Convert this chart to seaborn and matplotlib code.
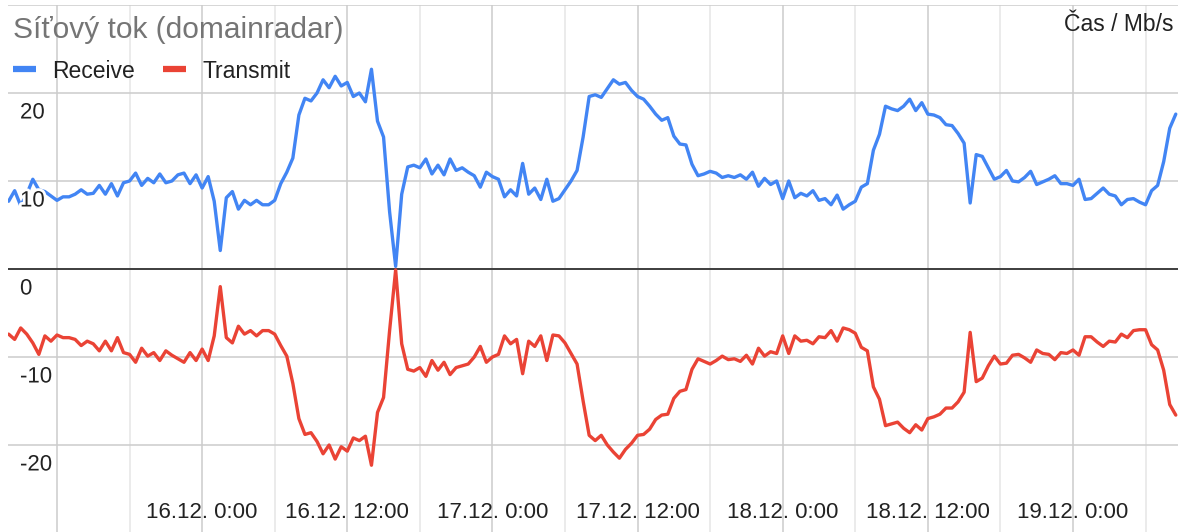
import pandas as pd
import matplotlib
matplotlib.use("Agg")
import matplotlib.pyplot as plt
import matplotlib.dates as mdates
import matplotlib.patheffects as pe
from matplotlib.transforms import offset_copy
from matplotlib.lines import Line2D
import seaborn as sns

# --------------------------------------------
# Data (Mb/s, one sample every 30 minutes)
# --------------------------------------------
start_time = "2024-12-15 08:00"
sample_step = "30min"

receive = [
    7.7, 8.9, 7.2, 8.5, 10.2, 9.0, 8.8, 8.3, 7.8, 8.2,
    8.2, 8.5, 9.0, 8.5, 8.6, 9.5, 8.5, 9.7, 8.3, 9.8,
    10.0, 10.9, 9.5, 10.3, 9.8, 10.8, 9.8, 10.0, 10.7, 10.9,
    9.7, 10.7, 9.2, 10.5, 7.7, 2.1, 8.1, 8.8, 6.8, 7.8,
    7.3, 7.8, 7.3, 7.3, 7.8, 9.7, 11.0, 12.6, 17.5, 19.4,
    19.1, 20.0, 21.5, 20.6, 21.9, 20.8, 21.2, 19.6, 20.0, 19.0,
    22.7, 16.8, 15.0, 6.5, 0.3, 8.5, 11.6, 11.8, 11.5, 12.5,
    10.8, 11.8, 10.7, 12.5, 11.2, 11.5, 11.0, 10.6, 9.3, 11.0,
    10.5, 10.2, 8.2, 9.0, 8.3, 12.0, 8.5, 9.2, 7.9, 10.2,
    7.7, 8.0, 9.0, 10.0, 11.2, 15.0, 19.6, 19.8, 19.5, 20.5,
    21.5, 21.0, 21.2, 20.3, 19.6, 19.3, 18.5, 17.6, 16.9, 17.2,
    15.1, 14.2, 14.1, 11.9, 10.6, 10.8, 11.1, 10.9, 10.4, 10.6,
    10.4, 10.7, 10.2, 11.0, 9.4, 10.3, 9.6, 10.0, 8.0, 10.0,
    8.1, 8.6, 8.3, 8.9, 7.8, 8.0, 7.3, 8.4, 6.8, 7.3,
    7.7, 9.3, 9.7, 13.5, 15.3, 18.5, 18.2, 18.0, 18.5, 19.3,
    18.0, 18.9, 17.6, 17.5, 17.2, 16.4, 16.3, 15.4, 14.3, 7.5,
    13.0, 12.8, 11.5, 10.2, 10.5, 11.2, 10.0, 9.9, 10.4, 11.1,
    9.6, 9.9, 10.2, 10.6, 9.7, 9.7, 9.5, 10.2, 7.9, 8.0,
    8.6, 9.2, 8.5, 8.3, 7.3, 7.9, 8.0, 7.6, 7.3, 8.9,
    9.5, 12.2, 16.0, 17.6,
]

transmit = [
    -7.4, -8.0, -6.7, -7.4, -8.4, -9.7, -7.6, -8.2, -7.5, -7.8,
    -7.8, -8.0, -8.7, -8.2, -8.5, -9.3, -8.2, -9.3, -7.8, -9.5,
    -9.7, -10.6, -9.0, -9.9, -9.5, -10.4, -9.3, -9.8, -10.2, -10.6,
    -9.5, -10.4, -9.1, -10.4, -7.6, -2.0, -7.8, -8.4, -6.5, -7.4,
    -7.0, -7.6, -7.0, -7.0, -7.4, -8.7, -9.9, -13.0, -17.0, -18.8,
    -18.6, -19.6, -21.0, -20.0, -21.6, -20.2, -20.7, -19.2, -19.5, -19.0,
    -22.3, -16.3, -14.6, -7.0, -0.1, -8.5, -11.4, -11.6, -11.2, -12.2,
    -10.4, -11.5, -10.6, -12.0, -11.2, -11.0, -10.8, -10.0, -8.8, -10.6,
    -10.0, -9.7, -7.6, -8.5, -8.0, -11.9, -8.2, -8.8, -7.6, -10.4,
    -7.5, -7.6, -8.4, -9.6, -10.8, -15.0, -18.9, -19.5, -18.9, -20.0,
    -20.8, -21.5, -20.5, -19.8, -18.9, -18.8, -18.2, -17.1, -16.6, -16.5,
    -14.7, -13.9, -13.7, -11.4, -10.2, -10.5, -10.8, -10.4, -9.9, -10.3,
    -10.2, -10.5, -9.8, -10.8, -9.0, -9.9, -9.4, -9.6, -7.6, -9.6,
    -7.6, -8.2, -8.1, -8.5, -7.7, -7.8, -7.0, -8.2, -6.7, -6.9,
    -7.3, -8.9, -9.3, -13.4, -14.8, -17.8, -17.6, -17.4, -18.1, -18.6,
    -17.7, -18.3, -17.0, -16.8, -16.5, -15.8, -15.8, -15.1, -14.0, -7.2,
    -12.8, -12.4, -11.0, -9.9, -10.8, -10.7, -9.8, -9.7, -10.1, -10.6,
    -9.2, -9.6, -9.7, -10.3, -9.5, -9.6, -9.2, -9.8, -7.7, -7.7,
    -8.3, -8.8, -8.2, -8.3, -7.4, -7.8, -7.0, -6.9, -6.9, -8.6,
    -9.2, -11.5, -15.4, -16.6,
]

series_names = ["Receive", "Transmit"]
series_colors = ["#4285F4", "#EA4335"]

y_tick_values = [20, 10, 0, -10, -20]
x_tick_times = ["2024-12-16 00:00", "2024-12-16 12:00", "2024-12-17 00:00",
                "2024-12-17 12:00", "2024-12-18 00:00", "2024-12-18 12:00",
                "2024-12-19 00:00"]
x_tick_labels = ["16.12. 0:00", "16.12. 12:00", "17.12. 0:00", "17.12. 12:00",
                 "18.12. 0:00", "18.12. 12:00", "19.12. 0:00"]

title_text = "Síťový tok (domainradar)"
axis_note = "Čas / Mb/s"

# --------------------------------------------
# Build long table for seaborn
# --------------------------------------------
times = pd.date_range(start_time, periods=len(receive), freq=sample_step)
df = pd.concat([
    pd.DataFrame({"time": times, "value": receive, "series": series_names[0]}),
    pd.DataFrame({"time": times, "value": transmit, "series": series_names[1]}),
])

# --------------------------------------------
# Plot
# --------------------------------------------
sns.set_style("white")
plt.rcParams["font.family"] = ["Liberation Sans", "DejaVu Sans"]

W, H = 1184, 532
fig = plt.figure(figsize=(W / 100, H / 100), dpi=100)
ax = fig.add_axes([8 / W, -1 / H, 1170 / W, 528 / H])

sns.lineplot(data=df, x="time", y="value", hue="series", palette=series_colors,
             linewidth=2.4, legend=False, ax=ax, zorder=3)

ax.set_ylim(-30, 30)
ax.set_xlim(pd.Timestamp("2024-12-15 07:57"), pd.Timestamp("2024-12-19 08:41"))
ax.set_yticks(range(-30, 31, 10))
ax.xaxis.set_major_locator(mdates.HourLocator(byhour=[0, 12]))
ax.xaxis.set_minor_locator(mdates.HourLocator(byhour=[6, 18]))
ax.grid(axis="y", color="#cccccc", linewidth=1.1)
ax.grid(axis="x", which="major", color="#cccccc", linewidth=1.1)
ax.grid(axis="x", which="minor", color="#e6e6e6", linewidth=1.1)
ax.axhline(0, color="#333333", linewidth=1.3, zorder=2)
ax.tick_params(which="both", length=0, labelbottom=False, labelleft=False)
ax.set_xlabel("")
ax.set_ylabel("")
sns.despine(ax=ax, left=True, bottom=True, top=True, right=True)

# y labels inside the plot, under their gridline
halo = [pe.withStroke(linewidth=4, foreground="white")]
ylab_tr = offset_copy(ax.get_yaxis_transform(), fig=fig, y=-25.5, units="dots")
for v in y_tick_values:
    ax.text(12 / 1170, v, str(v), transform=ylab_tr, fontsize=16,
            color="#222222", va="baseline", ha="left", zorder=5, path_effects=halo)

# x labels inside the plot, near the bottom
for t, lab in zip(x_tick_times, x_tick_labels):
    ax.text(pd.Timestamp(t), 14.7 / 528, lab, transform=ax.get_xaxis_transform(),
            fontsize=16, color="#222222", ha="center", va="baseline", zorder=5)

# title, legend and unit note
fig.text(13 / W, 1 - 37.5 / H, title_text, fontsize=21.5, color="#757575",
         ha="left", va="baseline")
fig.text(1173 / W, 1 - 30.7 / H, axis_note, fontsize=16.5, color="#222222",
         ha="right", va="baseline")

handles = [Line2D([], [], color=c, linewidth=4.5, solid_capstyle="butt")
           for c in series_colors]
fig.legend(handles, series_names, loc="center left", bbox_to_anchor=(13 / W, 1 - 71 / H),
           ncol=2, frameon=False, fontsize=16.5, handlelength=1.0,
           handletextpad=0.7, columnspacing=1.25, borderpad=0, borderaxespad=0,
           labelcolor="#222222")

plt.savefig("out.png", dpi=100)
